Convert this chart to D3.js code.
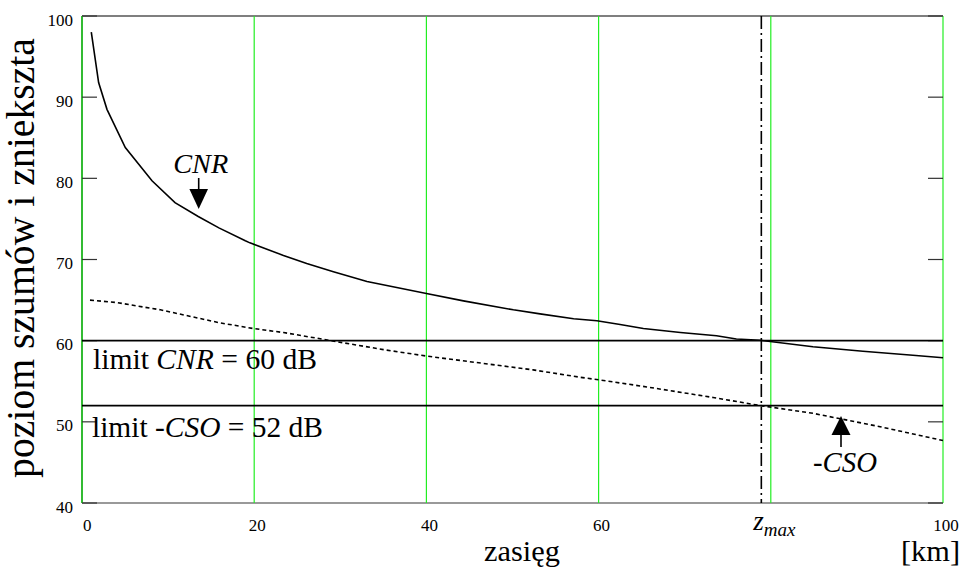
<!DOCTYPE html>
<html><head><meta charset="utf-8">
<script src="https://cdn.jsdelivr.net/npm/d3@7"></script>
<style>body{margin:0;background:#fff}svg{display:block}</style>
</head><body>
<script>
const cnrX = [1.08,1.93,2.9,5.03,8.13,10.8,13.5,15.9,18.97,19.5,23.4,26.1,29.2,33.1,40.0,44.3,50.1,53.2,57.1,59.8,62.5,65.2,69.5,73.7,76.0,78.8,84.9,90.7,96.5,100];
const cnrY = [98.0,91.8,88.5,83.8,79.7,77.0,75.3,73.9,72.3,72.05,70.5,69.5,68.5,67.3,65.8,64.9,63.8,63.3,62.7,62.45,62.0,61.5,61.0,60.6,60.2,60.05,59.25,58.7,58.2,57.9];
const csoX = [0.93,4.0,9.1,16.0,19.9,23.4,27.3,31.1,35,40,46.6,52.4,57.8,60.2,65.6,73.3,78.8,84.9,92.7,100];
const csoY = [65.0,64.7,63.8,62.2,61.5,61.0,60.3,59.6,58.9,58.1,57.2,56.4,55.5,55.15,54.3,53.0,52.0,51.05,49.4,47.7];
const xTicks = [0,20,40,60,100];
const yTicks = [40,50,60,70,80,90,100];
const gridX = [0,20,40,60,80,100];
const limits = [60,52];
const zmax = 78.9;

const W=963,H=572, L=82,R=943,T=16,B=503;
const FONT='"Liberation Serif"';
const svg=d3.select("body").append("svg").attr("width",W).attr("height",H);
const x=d3.scaleLinear().domain([0,100]).range([L,R]);
const y=d3.scaleLinear().domain([40,100]).range([B,T]);
function txt(){ return svg.append("text").style("font-family",FONT).attr("fill","#000"); }
function fit(sel,w){ const len=sel.node().getComputedTextLength(); const fs=+sel.attr("font-size"); sel.attr("font-size",(fs*w/len).toFixed(2)); return sel; }

svg.append("line").attr("x1",L).attr("x2",R).attr("y1",T).attr("y2",T).attr("stroke","#555").attr("stroke-width",1.5);
svg.append("line").attr("x1",L).attr("x2",R).attr("y1",B).attr("y2",B).attr("stroke","#777").attr("stroke-width",1.5);
svg.selectAll(".gx").data(gridX).enter().append("line")
 .attr("x1",d=>x(d)).attr("x2",d=>x(d)).attr("y1",T).attr("y2",B)
 .attr("stroke",d=>d===0?"#33bb33":"#22ee22").attr("stroke-width",d=>d===0?2:1.2);
svg.selectAll(".tl").data(yTicks).enter().append("line")
 .attr("x1",L).attr("x2",L+15).attr("y1",d=>y(d)).attr("y2",d=>y(d)).attr("stroke","#333").attr("stroke-width",1.2);
svg.selectAll(".tr").data(yTicks).enter().append("line")
 .attr("x1",R-15).attr("x2",R).attr("y1",d=>y(d)).attr("y2",d=>y(d)).attr("stroke","#333").attr("stroke-width",1.2);
yTicks.forEach(d=>{ txt().attr("x",L-9).attr("y",y(d)+9.5).attr("text-anchor","end").attr("font-size",17).text(d); });
xTicks.forEach(d=>{ txt().attr("x",d===0?x(d)+1:x(d)+3).attr("y",B+28).attr("text-anchor",d===0?"start":"middle").attr("font-size",17).text(d); });
const zl=txt().attr("x",x(zmax)-8).attr("y",B+27).attr("font-size",27).attr("font-style","italic");
zl.append("tspan").style("font-family",FONT).text("z");
zl.append("tspan").style("font-family",FONT).attr("font-size",19).attr("dy",6).text("max");

svg.selectAll(".lim").data(limits).enter().append("line")
 .attr("x1",L).attr("x2",R).attr("y1",d=>y(d)).attr("y2",d=>y(d)).attr("stroke","#000").attr("stroke-width",1.6);
svg.append("line").attr("x1",x(zmax)).attr("x2",x(zmax)).attr("y1",T).attr("y2",B)
 .attr("stroke","#000").attr("stroke-width",1.6).attr("stroke-dasharray","13,4,2,4");

const line=d3.line().x(d=>x(d[0])).y(d=>y(d[1]));
svg.append("path").datum(cnrX.map((v,i)=>[v,cnrY[i]])).attr("d",line).attr("fill","none").attr("stroke","#000").attr("stroke-width",1.6);
svg.append("path").datum(csoX.map((v,i)=>[v,csoY[i]])).attr("d",line).attr("fill","none").attr("stroke","#000").attr("stroke-width",1.6).attr("stroke-dasharray","4,3");

const t1=txt().attr("x",93).attr("y",369).attr("font-size",28);
t1.append("tspan").style("font-family",FONT).text("limit ");t1.append("tspan").style("font-family",FONT).attr("font-style","italic").text("CNR");t1.append("tspan").style("font-family",FONT).text(" = 60 dB");
fit(t1,224);
const t2=txt().attr("x",92).attr("y",437).attr("font-size",28);
t2.append("tspan").style("font-family",FONT).text("limit -");t2.append("tspan").style("font-family",FONT).attr("font-style","italic").text("CSO");t2.append("tspan").style("font-family",FONT).text(" = 52 dB");
fit(t2,231);

const ax1=198.7;
fit(txt().attr("x",ax1+2).attr("y",173).attr("text-anchor","middle").attr("font-size",29).attr("font-style","italic").text("CNR"),55);
svg.append("line").attr("x1",ax1).attr("x2",ax1).attr("y1",178).attr("y2",191).attr("stroke","#000").attr("stroke-width",1.6);
svg.append("path").attr("d",`M${ax1-9.3},189 L${ax1+9.3},189 L${ax1},209 Z`).attr("fill","#000");
const ax2=841;
fit(txt().attr("x",845).attr("y",472).attr("text-anchor","middle").attr("font-size",29).attr("font-style","italic").text("-CSO"),64);
svg.append("line").attr("x1",ax2).attr("x2",ax2).attr("y1",447).attr("y2",433).attr("stroke","#000").attr("stroke-width",1.6);
svg.append("path").attr("d",`M${ax2-9.5},435 L${ax2+9.5},435 L${ax2},416 Z`).attr("fill","#000");

fit(txt().attr("x",522).attr("y",561).attr("text-anchor","middle").attr("font-size",31).text("zasięg"),76);
fit(txt().attr("x",960).attr("y",561).attr("text-anchor","end").attr("font-size",31).text("[km]"),59);
fit(txt().attr("transform",`translate(34,258) rotate(-90)`).attr("text-anchor","middle").attr("font-size",31).text("poziom szumów i zniekszta"),440);
</script>
</body></html>
